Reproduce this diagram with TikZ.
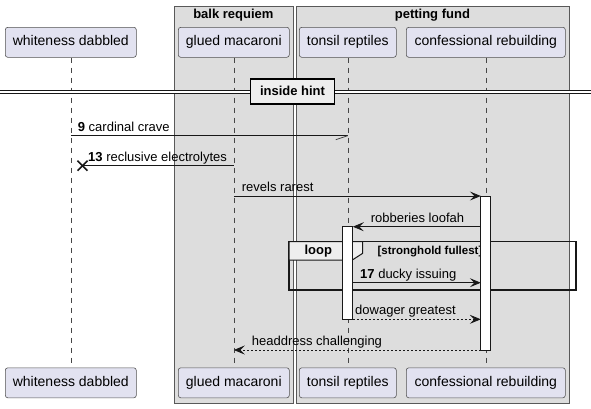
\documentclass[tikz,border=0pt]{standalone}
\usepackage{fontspec}
\setmainfont{Liberation Sans}
\usetikzlibrary{arrows.meta,calc}
\definecolor{partfill}{HTML}{E2E2F0}
\definecolor{grpfill}{HTML}{DDDDDD}
\definecolor{ln}{HTML}{181818}
\definecolor{tabfill}{HTML}{EEEEEE}
\begin{document}
\begin{tikzpicture}[x=1pt,y=-1pt,
  part/.style={draw=ln!75, line width=0.6pt, fill=partfill, rounded corners=2.5pt,
    minimum height=30pt, inner sep=0pt, anchor=north west,
    font=\fontsize{14}{16}\selectfont, text height=10pt, text depth=3pt},
  grp/.style={draw=black!65, line width=0.8pt, fill=grpfill, inner sep=0pt, anchor=north west},
  grptitle/.style={font=\fontsize{13}{15}\selectfont\bfseries, inner sep=0pt},
  life/.style={draw=ln!80, line width=0.5pt, dash pattern=on 5pt off 5pt},
  msg/.style={draw=ln, line width=0.8pt},
  arr/.style={msg, -{Stealth[length=11pt,width=9pt,inset=4.5pt]}},
  darr/.style={arr, dash pattern=on 2pt off 2pt},
  lbl/.style={anchor=base west, inner sep=0pt, font=\fontsize{13}{15}\selectfont},
  act/.style={draw=ln, line width=0.8pt, fill=white, minimum width=10pt, inner sep=0pt}
]
\useasboundingbox (0,0) rectangle (591,408);
\fill[white] (0,0) rectangle (591,408);
% groups
\node[grp, minimum width=119.8pt, minimum height=396.7pt] (gB) at (173.5,6) {};
\node[grp, minimum width=273.8pt, minimum height=396.7pt] (gP) at (295.5,6) {};
\node[grptitle] (gBt) at (233.4,15.3) {balk requiem};
\node[grptitle] (gPt) at (432.4,15.3) {petting fund};
% participants
\node[part, minimum width=131pt] (pA) at (5,27) {whiteness dabbled};
\node[part, minimum width=111pt] (pB) at (178,27) {glued macaroni};
\node[part, minimum width=97pt] (pC) at (299,27) {tonsil reptiles};
\node[part, minimum width=159pt] (pD) at (406,27) {confessional rebuilding};
\node[part, minimum width=131pt] (pAb) at (5,367.5) {whiteness dabbled};
\node[part, minimum width=111pt] (pBb) at (178,367.5) {glued macaroni};
\node[part, minimum width=97pt] (pCb) at (299,367.5) {tonsil reptiles};
\node[part, minimum width=159pt] (pDb) at (406,367.5) {confessional rebuilding};
% lifelines
\draw[life] (pA.south) -- (pAb.north);
\draw[life] (pB.south) -- (pBb.north);
\draw[life] (pC.south) -- (pCb.north);
\draw[life] (pD.south) -- (pDb.north);
% divider
\fill[white] (0,90) rectangle (591,93);
\draw[ln, line width=1pt] (0,90) -- (591,90);
\draw[ln, line width=1pt] (0,93) -- (591,93);
\node[draw=black, line width=1.6pt, fill=tabfill, minimum width=84pt, minimum height=25pt,
  inner sep=0pt, font=\fontsize{13}{15}\selectfont\bfseries] (div) at (292.5,91.3) {inside hint};
% row levels
\coordinate (r9) at (0,135.7);
\coordinate (r13) at (0,165.7);
\coordinate (rRev) at (0,196);
\coordinate (rRob) at (0,226.7);
\coordinate (rDuck) at (0,282.7);
\coordinate (rDow) at (0,319.3);
\coordinate (rHead) at (0,350);
% activation corners
\path (pD.south |- rRev) coordinate (aDtop) (pD.south |- rHead) coordinate (aDbot);
\path (pC.south |- rRob) coordinate (aCtop) (pC.south |- rDow) coordinate (aCbot);
% loop box
\draw[ln, line width=1.5pt] (289,241.5) rectangle (576,290);
\draw[ln, line width=1pt, fill=tabfill] (289,241.5) -- (362.7,241.5) -- (362.7,253.3) -- (352.3,260) -- (289,260) -- cycle;
\node[inner sep=0pt, font=\fontsize{13}{15}\selectfont\bfseries] (loopt) at (318.3,251.3) {loop};
\node[inner sep=0pt, font=\fontsize{11.5}{13}\selectfont\bfseries] (loopc) at (430,251.3) {[stronghold fullest]};
% messages
\coordinate (x13) at (82.5,165.7);
\draw[msg] (pA.south |- r9) -- (pC.south |- r9);
\draw[ln!80, line width=0.8pt] ($(pC.south |- r9)+(-12,4)$) -- (pC.south |- r9);
\node[lbl] (l9) at (77.7,131.2) {\textbf{9} cardinal crave};
\draw[msg] (pB.south |- r13) -- (x13);
\draw[ln, line width=1.6pt] ($(x13)+(-5,-5)$) -- ($(x13)+(5,5)$);
\draw[ln, line width=1.6pt] ($(x13)+(-5,5)$) -- ($(x13)+(5,-5)$);
\node[lbl] (l13) at (88,161.2) {\textbf{13} reclusive electrolytes};
\draw[arr] (pB.south |- rRev) -- ($(pD.south |- rRev)+(-5,0)$);
\node[lbl] (lRev) at (241.7,191.5) {revels rarest};
\draw[arr] ($(pD.south |- rRob)+(-5,0)$) -- ($(pC.south |- rRob)+(5,0)$);
\node[lbl] (lRob) at (370.7,222.2) {robberies loofah};
\draw[arr] ($(pC.south |- rDuck)+(5,0)$) -- ($(pD.south |- rDuck)+(-5,0)$);
\node[lbl] (lDuck) at (360,278.2) {\textbf{17} ducky issuing};
\draw[darr] ($(pC.south |- rDow)+(5,0)$) -- ($(pD.south |- rDow)+(-5,0)$);
\node[lbl] (lDow) at (355,314.8) {dowager greatest};
\draw[darr] ($(pD.south |- rHead)+(-5,0)$) -- (pB.south |- rHead);
\node[lbl] (lHead) at (251.7,345.5) {headdress challenging};
% activations
\draw[ln, line width=0.8pt, fill=white] ($(aDtop)+(-5,0)$) rectangle ($(aDbot)+(5,0)$);
\draw[ln, line width=0.8pt, fill=white] ($(aCtop)+(-5,0)$) rectangle ($(aCbot)+(5,0)$);
\end{tikzpicture}
\end{document}
